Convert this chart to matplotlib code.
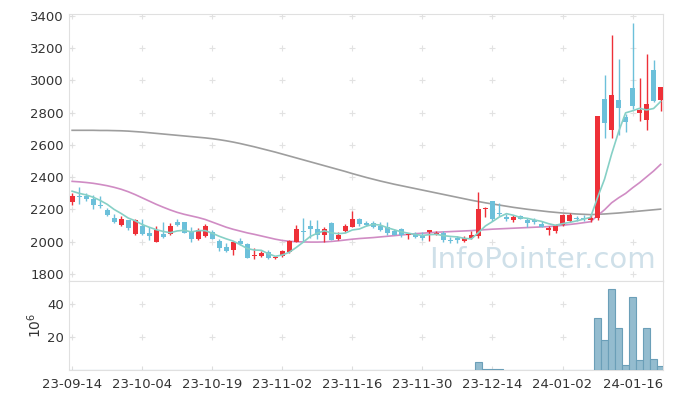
import numpy as np
import matplotlib
matplotlib.use("Agg")
import matplotlib.pyplot as plt

# ---- data (daily candles, 23-09-14 .. 24-01-22) ----
opens = [2245, 2286, 2286, 2266, 2230, 2198, 2149, 2106, 2132, 2050,
         2095, 2054, 2000, 2046, 2045, 2120, 2120, 2067, 2020, 2034,
         2060, 2003, 1966, 1948, 2003, 1985, 1910, 1911, 1937, 1897,
         1911, 1937, 1999, 2067, 2095, 2081, 2040, 2116, 2015, 2067,
         2091, 2138, 2118, 2118, 2095, 2091, 2067, 2081, 2040, 2050,
         2034, 2060, 2046, 2054, 2013, 2026, 2005, 2026, 2034, 2202,
         2255, 2180, 2153, 2133, 2157, 2133, 2133, 2112, 2071, 2067,
         2103, 2128, 2149, 2149, 2133, 2149, 2881, 2690, 2875, 2772,
         2949, 2799, 2752, 3066, 2875]
highs = [2300, 2337, 2300, 2290, 2286, 2210, 2173, 2157, 2137, 2143,
         2143, 2091, 2100, 2122, 2116, 2143, 2122, 2091, 2085, 2110,
         2075, 2015, 1990, 2005, 2025, 1990, 1964, 1940, 1950, 1910,
         1950, 2010, 2101, 2149, 2137, 2137, 2090, 2125, 2060, 2110,
         2190, 2149, 2130, 2130, 2120, 2120, 2080, 2085, 2055, 2062,
         2060, 2075, 2065, 2065, 2030, 2035, 2035, 2067, 2311, 2216,
         2255, 2240, 2170, 2165, 2165, 2150, 2150, 2130, 2100, 2110,
         2170, 2175, 2160, 2165, 2165, 2778, 3031, 3277, 3134, 2790,
         3353, 3014, 3162, 3128, 2957]
lows = [2230, 2235, 2255, 2204, 2212, 2161, 2116, 2100, 2075, 2043,
        2040, 2013, 2000, 2026, 2040, 2100, 2055, 2000, 2013, 2030,
        2015, 1945, 1934, 1920, 1978, 1900, 1893, 1905, 1893, 1893,
        1905, 1930, 1999, 1999, 2022, 2020, 1999, 2013, 2010, 2060,
        2091, 2100, 2095, 2085, 2065, 2040, 2040, 2030, 2020, 2026,
        2010, 2003, 2040, 2000, 1995, 1995, 2000, 2020, 2026, 2153,
        2130, 2157, 2130, 2120, 2138, 2092, 2110, 2091, 2040, 2055,
        2095, 2120, 2128, 2128, 2125, 2135, 2645, 2645, 2662, 2680,
        2820, 2748, 2690, 2865, 2809]
closes = [2286, 2280, 2266, 2229, 2220, 2165, 2120, 2143, 2088, 2132,
          2050, 2035, 2071, 2030, 2095, 2103, 2057, 2020, 2071, 2095,
          2020, 1962, 1943, 1999, 1985, 1900, 1917, 1932, 1897, 1903,
          1941, 2003, 2081, 2062, 2077, 2040, 2081, 2013, 2040, 2095,
          2138, 2108, 2106, 2091, 2071, 2057, 2044, 2044, 2050, 2030,
          2026, 2070, 2056, 2010, 2005, 2009, 2026, 2040, 2204, 2210,
          2143, 2174, 2139, 2153, 2143, 2116, 2125, 2091, 2085, 2095,
          2164, 2164, 2139, 2139, 2149, 2778, 2737, 2908, 2826, 2743,
          2840, 2815, 2855, 2871, 2957]
ma5 = [2313, 2300, 2290, 2276, 2256, 2232, 2200, 2175, 2147, 2130,
       2107, 2090, 2075, 2064, 2056, 2067, 2071, 2061, 2069, 2069,
       2053, 2034, 2018, 2004, 1982, 1958, 1949, 1947, 1926, 1910,
       1918, 1935, 1965, 1998, 2033, 2053, 2068, 2055, 2050, 2054,
       2073, 2079, 2097, 2108, 2103, 2087, 2074, 2061, 2053, 2045,
       2039, 2044, 2046, 2038, 2033, 2030, 2021, 2018, 2057, 2098,
       2125, 2154, 2174, 2164, 2150, 2145, 2135, 2126, 2112, 2102,
       2112, 2120, 2129, 2140, 2151, 2274, 2388, 2542, 2680, 2798,
       2811, 2826, 2816, 2825, 2868]
ma20 = [2374, 2371, 2367, 2362, 2355, 2347, 2337, 2325, 2310, 2292,
        2272, 2252, 2232, 2214, 2197, 2182, 2170, 2160, 2150, 2138,
        2122, 2106, 2090, 2077, 2066, 2055, 2046, 2036, 2026, 2016,
        2008, 2003, 2000, 1999, 1998, 1998, 1999, 2002, 2006, 2011,
        2016, 2020, 2023, 2026, 2030, 2034, 2038, 2042, 2046, 2050,
        2053, 2056, 2059, 2061, 2063, 2065, 2067, 2069, 2072, 2075,
        2078, 2080, 2082, 2084, 2086, 2088, 2090, 2092, 2094, 2097,
        2102, 2107, 2112, 2118, 2124, 2162, 2198, 2241, 2272, 2299,
        2334, 2366, 2402, 2438, 2479]
ma60 = [2690, 2690, 2690, 2690, 2689, 2689, 2688, 2687, 2685, 2682,
        2679, 2675, 2671, 2667, 2663, 2659, 2655, 2651, 2647, 2643,
        2638, 2632, 2625, 2617, 2608, 2598, 2588, 2577, 2566, 2555,
        2543, 2531, 2519, 2507, 2495, 2483, 2471, 2459, 2447, 2435,
        2422, 2410, 2398, 2387, 2376, 2366, 2356, 2347, 2338, 2329,
        2320, 2311, 2302, 2293, 2284, 2275, 2266, 2257, 2249, 2241,
        2234, 2227, 2220, 2213, 2207, 2201, 2196, 2191, 2186, 2182,
        2178, 2175, 2172, 2170, 2168, 2170, 2172, 2175, 2178, 2182,
        2186, 2190, 2194, 2198, 2202]
# volume in millions
volume = [0.05] * 58 + [4.7, 0.6, 0.6, 0.6] + [0.05] * 13 + \
         [31.3, 18.2, 48.9, 25.3, 3.0, 44.0, 6.1, 25.3, 6.5, 2.4]
tick_labels = ["23-09-14", "23-10-04", "23-10-19", "23-11-02", "23-11-16",
               "23-11-30", "23-12-14", "24-01-02", "24-01-16"]

UP = "#ee3038"
DOWN = "#6cc0da"

fig = plt.figure(figsize=(6.73, 3.99), dpi=100)
ax = fig.add_axes([0.103, 0.2957, 0.8817, 0.6692])
axv = fig.add_axes([0.103, 0.0727, 0.8817, 0.2230], sharex=ax)

x = np.arange(len(closes))
o = np.array(opens); c = np.array(closes)
h = np.array(highs); l = np.array(lows)
up = c >= o
cols = np.where(up, UP, DOWN)

# wicks and bodies
ax.vlines(x, l, h, colors=cols, linewidth=1.0, zorder=3)
ax.bar(x, np.maximum(np.abs(c - o), 4), bottom=np.minimum(o, c), width=0.72,
       color=cols, linewidth=0, zorder=4)

# moving averages
ax.plot(x, ma60, color="#9e9e9e", lw=1.2, zorder=2)
ax.plot(x, ma20, color="#d08cc4", lw=1.2, zorder=2)
ax.plot(x, ma5, color="#86d0c6", lw=1.2, zorder=5)

ax.text(0.988, 0.08, "InfoPointer.com", transform=ax.transAxes, ha="right",
        va="center", fontsize=21, color="#cfe0e9", zorder=1)

axv.bar(x, volume, width=1.0, color="#94bccf", edgecolor="#6b9fb8",
        linewidth=0.8, zorder=3)

ax.set_xlim(-0.4, 84.3)
ax.set_ylim(1757, 3410)
axv.set_ylim(0, 54)

yt = np.arange(1800, 3401, 200)
ax.set_yticks(yt)
axv.set_yticks([20, 40])
xt = np.arange(0, 81, 10)
axv.set_xticks(xt)
axv.set_xticklabels(tick_labels)
plt.setp(ax.get_xticklabels(), visible=False)

# grid crosses
gx, gy = np.meshgrid(xt, yt)
ax.scatter(gx.ravel(), gy.ravel(), marker="+", s=20, color="#e2e2e2",
           linewidths=0.8, zorder=0)
gx, gy = np.meshgrid(xt, [20, 40])
axv.scatter(gx.ravel(), gy.ravel(), marker="+", s=20, color="#e2e2e2",
            linewidths=0.8, zorder=0)

for a in (ax, axv):
    for s in a.spines.values():
        s.set_color("#e0e0e0")
    a.tick_params(axis="both", length=3, color="#dddddd", direction="in",
                  labelsize=9.5, labelcolor="#333333", pad=4)
ax.tick_params(axis="x", length=0)
axv.tick_params(axis="x", pad=6)

axv.set_ylabel(r"$10^6$", fontsize=10, color="#333333", labelpad=2)

fig.savefig("out.png", dpi=100)
